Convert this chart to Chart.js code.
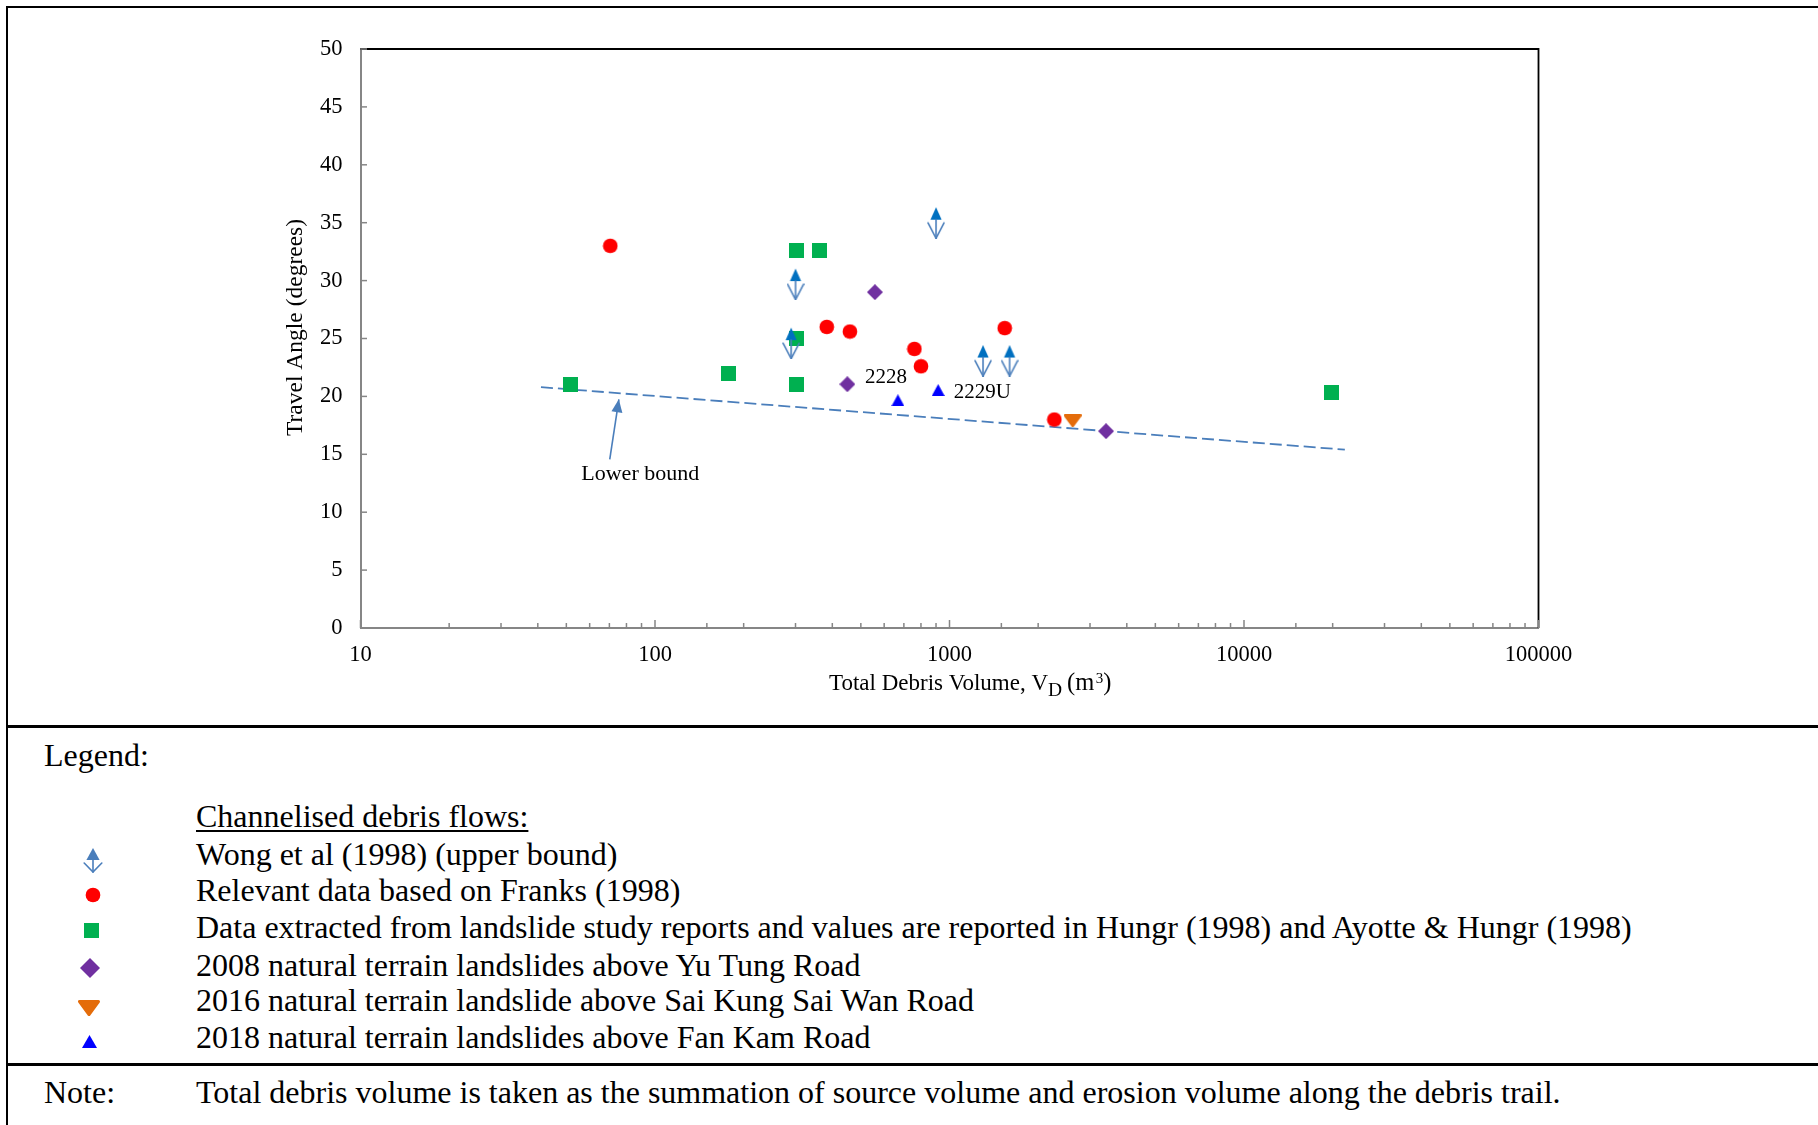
<!DOCTYPE html>
<html>
<head>
<meta charset="utf-8">
<script src="https://cdn.jsdelivr.net/npm/chart.js@4.4.1/dist/chart.umd.min.js"></script>
<style>
  html, body { margin: 0; padding: 0; background: #fff; }
  #page { position: relative; width: 1818px; height: 1125px; overflow: hidden; background: #fff;
          font-family: "Liberation Serif", "Times New Roman", serif; color: #000; }
  #chartWrap { position: absolute; left: 0; top: 0; width: 1818px; height: 726px; }
  .rule { position: absolute; background: #000; }
  .txt { position: absolute; font-size: 32px; line-height: 32px; white-space: nowrap; }
  .mk { position: absolute; }
</style>
</head>
<body>
<div id="page">
  <div id="chartWrap"><canvas id="chart" width="1818" height="726"></canvas></div>
  <div class="rule" style="left:5.5px;top:5.5px;width:1813px;height:2.5px"></div>
  <div class="rule" style="left:5.5px;top:5.5px;width:2.5px;height:1120px"></div>
  <div class="rule" style="left:5.5px;top:725px;width:1813px;height:3px"></div>
  <div class="rule" style="left:5.5px;top:1063px;width:1813px;height:3px"></div>
  <div id="legend"></div>
</div>
<script>
// ---- data: total debris volume (m3) and travel angle (degrees) ----
const wongVolume    = [300, 290, 900, 1300, 1600];
const wongAngle     = [29.7, 24.6, 35.0, 23.1, 23.1];
const franksVolume  = [70.5, 383, 459, 760, 800, 1540, 2270];
const franksAngle   = [33.0, 26.0, 25.6, 24.1, 22.6, 25.9, 18.0];
const reportVolume  = [51.5, 177, 302, 362, 302, 302, 19800];
const reportAngle   = [21.05, 22.0, 32.6, 32.6, 25.0, 21.05, 20.35];
const yuTungVolume  = [450, 558, 3400];
const yuTungAngle   = [21.05, 29.0, 17.0];
const saiKungVolume = [2620];
const saiKungAngle  = [17.9];
const fanKamVolume  = [668, 915];
const fanKamAngle   = [19.67, 20.55];
const fanKamLabels  = ['2228', '2229U'];
const lowerBoundVolume = [41, 22000];
const lowerBoundAngle  = [20.8, 15.4];
const pointerVolume = [70.2, 75.4];   // tail, head of the "Lower bound" pointer
const pointerAngle  = [14.57, 19.75];

const seriesNames = [
  'Wong et al (1998) (upper bound)',
  'Relevant data based on Franks (1998)',
  'Data extracted from landslide study reports and values are reported in Hungr (1998) and Ayotte & Hungr (1998)',
  '2008 natural terrain landslides above Yu Tung Road',
  '2016 natural terrain landslide above Sai Kung Sai Wan Road',
  '2018 natural terrain landslides above Fan Kam Road'
];
const xTickLabels = ['10', '100', '1000', '10000', '100000'];
const xMin = 10, xMax = 100000;
const yMin = 0, yMax = 50, yStep = 5;

const SERIF = '"Liberation Serif", "Times New Roman", serif';

// ---- marker glyphs ----
function markerCanvas(w, h, paint) {
  const c = document.createElement('canvas');
  c.width = w; c.height = h;
  paint(c.getContext('2d'), w, h);
  return c;
}
function poly(g, pts) {
  g.beginPath();
  g.moveTo(pts[0][0], pts[0][1]);
  for (let i = 1; i < pts.length; i++) g.lineTo(pts[i][0], pts[i][1]);
  g.closePath();
}
function upperBoundGlyph(w, h, apex, base, halfTri, armY, armHalf, tip, triColor, arrowColor) {
  return markerCanvas(w, h, (g) => {
    const cx = w / 2;
    g.fillStyle = triColor;
    poly(g, [[cx, apex], [cx + halfTri, base], [cx - halfTri, base]]);
    g.fill();
    g.strokeStyle = arrowColor; g.lineWidth = 1.6; g.lineCap = 'round'; g.lineJoin = 'miter';
    g.beginPath(); g.moveTo(cx, base); g.lineTo(cx, tip); g.stroke();
    g.beginPath(); g.moveTo(cx - armHalf, armY); g.lineTo(cx, tip); g.lineTo(cx + armHalf, armY); g.stroke();
  });
}
function circleGlyph(d, color) {
  const s = Math.ceil(d) + 1;
  return markerCanvas(s, s, (g) => { g.fillStyle = color; g.beginPath(); g.arc(s / 2, s / 2, d / 2, 0, Math.PI * 2); g.fill(); });
}
function squareGlyph(s, color) {
  return markerCanvas(s, s, (g) => { g.fillStyle = color; g.fillRect(0, 0, s, s); });
}
function diamondGlyph(s, color) {
  return markerCanvas(s, s, (g) => { g.fillStyle = color; poly(g, [[s / 2, 0], [s, s / 2], [s / 2, s], [0, s / 2]]); g.fill(); });
}
function downTriGlyph(w, h, r, color) {
  return markerCanvas(w, h, (g) => {
    g.fillStyle = color; g.strokeStyle = color; g.lineWidth = 2 * r; g.lineJoin = 'round';
    poly(g, [[r, r], [w - r, r], [w / 2, h - r]]); g.fill(); g.stroke();
  });
}
function upTriGlyph(w, h, color) {
  return markerCanvas(w, h, (g) => { g.fillStyle = color; poly(g, [[w / 2, 0], [w, h], [0, h]]); g.fill(); });
}

const C_WONG_TRI = '#0070C0', C_WONG_ARROW = '#4A7EBB';
const C_RED = '#FF0000', C_GREEN = '#00B050', C_PURPLE = '#7030A0', C_ORANGE = '#E46C0A', C_BLUE = '#0000FF';
const C_LINE = '#4A7EBB';

const chartMarkers = [
  upperBoundGlyph(18, 32, 0.5, 12.9, 5.6, 16.2, 8, 31.5, C_WONG_TRI, C_WONG_ARROW),
  circleGlyph(14.7, C_RED),
  squareGlyph(15, C_GREEN),
  diamondGlyph(16, C_PURPLE),
  downTriGlyph(18, 13, 1.2, C_ORANGE),
  upTriGlyph(13, 12, C_BLUE)
];
const legendMarkers = [
  upperBoundGlyph(20, 26, 1, 13, 6.6, 16, 8.8, 25, C_WONG_ARROW, C_WONG_ARROW),
  circleGlyph(14.7, C_RED),
  squareGlyph(15, C_GREEN),
  diamondGlyph(20, C_PURPLE),
  downTriGlyph(22, 16, 1.5, C_ORANGE),
  upTriGlyph(15, 13, C_BLUE)
];

function pairs(xs, ys) { return xs.map((v, i) => ({ x: v, y: ys[i] })); }

// ---- extra drawing: frame, inward ticks, axis titles, annotations ----
const decor = {
  id: 'decor',
  beforeDatasetsDraw(chart) {
    const { ctx, chartArea: a, scales: { x, y } } = chart;
    ctx.save();
    ctx.strokeStyle = '#000'; ctx.lineWidth = 1.8;
    ctx.beginPath(); ctx.moveTo(a.left, a.top); ctx.lineTo(a.right, a.top); ctx.lineTo(a.right, a.bottom); ctx.stroke();
    ctx.strokeStyle = '#868686'; ctx.lineWidth = 1.5;
    y.ticks.forEach(t => {
      const py = y.getPixelForValue(t.value);
      ctx.beginPath(); ctx.moveTo(a.left, py); ctx.lineTo(a.left + 6.5, py); ctx.stroke();
    });
    x.ticks.forEach(t => {
      const px = x.getPixelForValue(t.value);
      const lg = Math.log10(t.value);
      const len = Math.abs(lg - Math.round(lg)) < 1e-9 ? 8 : 5;
      ctx.beginPath(); ctx.moveTo(px, a.bottom); ctx.lineTo(px, a.bottom - len); ctx.stroke();
    });
    ctx.restore();
  },
  afterDatasetsDraw(chart) {
    const { ctx } = chart;
    // arrow head of the "Lower bound" pointer
    const pm = chart.getDatasetMeta(7).data;
    const p0 = pm[0], p1 = pm[1];
    const ang = Math.atan2(p1.y - p0.y, p1.x - p0.x);
    const L = 13, W = 5.5;
    ctx.save();
    ctx.fillStyle = C_LINE;
    ctx.beginPath();
    ctx.moveTo(p1.x, p1.y);
    ctx.lineTo(p1.x - L * Math.cos(ang) + W * Math.sin(ang), p1.y - L * Math.sin(ang) - W * Math.cos(ang));
    ctx.lineTo(p1.x - L * Math.cos(ang) - W * Math.sin(ang), p1.y - L * Math.sin(ang) + W * Math.cos(ang));
    ctx.closePath(); ctx.fill();

    ctx.fillStyle = '#000';
    ctx.textBaseline = 'alphabetic';
    ctx.font = '22px ' + SERIF;
    ctx.textAlign = 'center';
    ctx.fillText('Lower bound', p0.x + 30.5, p0.y + 20.7);

    // labels on the 2018 landslides
    const fm = chart.getDatasetMeta(5).data;
    ctx.font = '21px ' + SERIF;
    ctx.textAlign = 'center';
    ctx.fillText(fanKamLabels[0], fm[0].x - 12, fm[0].y - 17);
    ctx.textAlign = 'left';
    ctx.fillText(fanKamLabels[1], fm[1].x + 15.5, fm[1].y + 8);
    ctx.restore();
  },
  afterDraw(chart) {
    const { ctx, chartArea: a } = chart;
    ctx.save();
    ctx.fillStyle = '#000';
    ctx.textBaseline = 'alphabetic';
    // y-axis title
    ctx.font = '23.5px ' + SERIF;
    ctx.translate(302, (a.top + a.bottom) / 2 - 11);
    ctx.rotate(-Math.PI / 2);
    ctx.textAlign = 'center';
    ctx.fillText('Travel Angle (degrees)', 0, 0);
    ctx.setTransform(1, 0, 0, 1, 0, 0);
    // x-axis title with subscript and superscript
    ctx.textAlign = 'left';
    let tx = 829, ty = 690;
    const big = '23px ' + SERIF, paren = '24.5px ' + SERIF, sub = '19.5px ' + SERIF, sup = '15px ' + SERIF;
    ctx.font = big; ctx.fillText('Total Debris Volume, V', tx, ty); tx += ctx.measureText('Total Debris Volume, V').width;
    ctx.font = sub; ctx.fillText('D', tx, ty + 6); tx += ctx.measureText('D').width + 5;
    ctx.font = paren; ctx.fillText('(m', tx, ty); tx += ctx.measureText('(m').width + 1.5;
    ctx.font = sup; ctx.fillText('3', tx, ty - 7); tx += ctx.measureText('3').width;
    ctx.font = paren; ctx.fillText(')', tx, ty);
    ctx.restore();
  }
};

const tickFont = { family: SERIF, size: 22.5 };

new Chart(document.getElementById('chart'), {
  type: 'scatter',
  data: {
    datasets: [
      { label: seriesNames[0], data: pairs(wongVolume, wongAngle), pointStyle: chartMarkers[0], pointRadius: 12 },
      { label: seriesNames[1], data: pairs(franksVolume, franksAngle), pointStyle: chartMarkers[1], pointRadius: 8 },
      { label: seriesNames[2], data: pairs(reportVolume, reportAngle), pointStyle: chartMarkers[2], pointRadius: 8 },
      { label: seriesNames[3], data: pairs(yuTungVolume, yuTungAngle), pointStyle: chartMarkers[3], pointRadius: 8 },
      { label: seriesNames[4], data: pairs(saiKungVolume, saiKungAngle), pointStyle: chartMarkers[4], pointRadius: 8 },
      { label: seriesNames[5], data: pairs(fanKamVolume, fanKamAngle), pointStyle: chartMarkers[5], pointRadius: 8 },
      { label: 'Lower bound', data: pairs(lowerBoundVolume, lowerBoundAngle), showLine: true, pointRadius: 0,
        borderColor: C_LINE, borderWidth: 1.8, borderDash: [12, 5], fill: false },
      { label: 'Lower bound pointer', data: pairs(pointerVolume, pointerAngle), showLine: true, pointRadius: 0,
        borderColor: C_LINE, borderWidth: 1.6, fill: false }
    ]
  },
  options: {
    responsive: false,
    animation: false,
    events: [],
    layout: { padding: { left: 0, top: 49, right: 279.5, bottom: 0 } },
    plugins: { legend: { display: false }, tooltip: { enabled: false }, title: { display: false } },
    scales: {
      x: {
        type: 'logarithmic', position: 'bottom', min: xMin, max: xMax,
        grid: { display: true, drawOnChartArea: false, drawTicks: false },
        border: { display: true, color: '#868686', width: 2 },
        ticks: {
          autoSkip: false, maxRotation: 0, minRotation: 0, padding: 13.5, color: '#000', font: tickFont,
          callback: (v) => xTickLabels.includes(String(v)) ? String(v) : ''
        },
        afterFit: (s) => { s.height = 98; }
      },
      y: {
        type: 'linear', position: 'left', min: yMin, max: yMax,
        grid: { display: true, drawOnChartArea: false, drawTicks: false },
        border: { display: true, color: '#868686', width: 2 },
        ticks: { stepSize: yStep, padding: 18, color: '#000', font: tickFont },
        afterFit: (s) => { s.width = 360.5; }
      }
    }
  },
  plugins: [decor]
});

// ---- legend and note below the chart ----
const legend = document.getElementById('legend');
function addText(str, left, baseline, extra) {
  const d = document.createElement('div');
  d.className = 'txt';
  d.textContent = str;
  d.style.left = left + 'px';
  d.style.top = (baseline - 26.8) + 'px';
  if (extra) Object.assign(d.style, extra);
  legend.appendChild(d);
}
function addMarker(c, cx, cy) {
  c.className = 'mk';
  c.style.left = (cx - c.width / 2) + 'px';
  c.style.top = (cy - c.height / 2) + 'px';
  legend.appendChild(c);
}
addText('Legend:', 44, 765.5);
addText('Channelised debris flows:', 196, 826.5, { textDecoration: 'underline', textDecorationThickness: '1.6px', textUnderlineOffset: '3px' });
const rowBaselines = [864.5, 900.8, 937.5, 975.3, 1010.8, 1047.6];
const markerCentres = [[93, 860], [92.7, 895], [91.5, 930], [90, 968], [89, 1007.5], [89, 1041]];
seriesNames.forEach((name, i) => {
  addText(name, 196, rowBaselines[i]);
  addMarker(legendMarkers[i], markerCentres[i][0], markerCentres[i][1]);
});
addText('Note:', 44, 1103);
addText('Total debris volume is taken as the summation of source volume and erosion volume along the debris trail.', 196, 1103);
</script>
</body>
</html>
